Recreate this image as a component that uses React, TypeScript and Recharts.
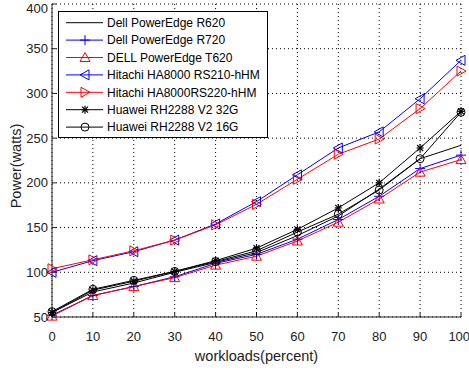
import React from "react";
import { LineChart, Line, XAxis, YAxis, CartesianGrid, Legend } from "recharts";

const workloads = [0, 10, 20, 30, 40, 50, 60, 70, 80, 90, 100];
const dellR620 = [55, 78, 88, 100, 111, 122, 141, 163, 193, 227, 242];
const dellR720 = [52, 74, 84, 95, 110, 120, 137, 159, 185, 216, 231];
const dellT620 = [51, 74, 84, 94, 108, 118, 135, 156, 182, 212, 226];
const hitachiRS210 = [100, 113, 123, 136, 154, 179, 209, 239, 257, 294, 337];
const hitachiRS220 = [104, 114, 124, 136, 153, 176, 204, 232, 249, 283, 325];
const huawei32G = [55, 80, 90, 101, 113, 127, 148, 172, 200, 239, 280];
const huawei16G = [56, 81, 91, 101, 112, 124, 145, 165, 192, 227, 279];

const xTicks = [0, 10, 20, 30, 40, 50, 60, 70, 80, 90, 100];
const yTicks = [50, 100, 150, 200, 250, 300, 350, 400];

type Shape = "none" | "plus" | "triUp" | "triLeft" | "triRight" | "star" | "circle";

interface Series {
  key: string;
  label: string;
  color: string;
  shape: Shape;
  values: number[];
}

const series: Series[] = [
  { key: "r620", label: "Dell PowerEdge R620", color: "#000000", shape: "none", values: dellR620 },
  { key: "r720", label: "Dell PowerEdge R720", color: "#0000ff", shape: "plus", values: dellR720 },
  { key: "t620", label: "DELL PowerEdge T620", color: "#ff0000", shape: "triUp", values: dellT620 },
  { key: "rs210", label: "Hitachi HA8000 RS210-hHM", color: "#0000ff", shape: "triLeft", values: hitachiRS210 },
  { key: "rs220", label: "Hitachi HA8000RS220-hHM", color: "#ff0000", shape: "triRight", values: hitachiRS220 },
  { key: "g32", label: "Huawei RH2288 V2 32G", color: "#000000", shape: "star", values: huawei32G },
  { key: "g16", label: "Huawei RH2288 V2 16G", color: "#000000", shape: "circle", values: huawei16G },
];

const data = workloads.map((w, i) => {
  const row: Record<string, number> = { x: w };
  series.forEach((s) => {
    row[s.key] = s.values[i];
  });
  return row;
});

const FONT = "'Liberation Sans', Arial, sans-serif";

function Marker({ shape, cx, cy, color }: { shape: Shape; cx: number; cy: number; color: string }) {
  const s = 5;
  switch (shape) {
    case "plus":
      return (
        <g stroke={color} strokeWidth={1} fill="none">
          <line x1={cx - s} y1={cy} x2={cx + s} y2={cy} />
          <line x1={cx} y1={cy - s} x2={cx} y2={cy + s} />
        </g>
      );
    case "triUp":
      return (
        <polygon
          points={`${cx},${cy - s} ${cx - s},${cy + s - 1} ${cx + s},${cy + s - 1}`}
          fill="none"
          stroke={color}
          strokeWidth={1}
        />
      );
    case "triLeft":
      return (
        <polygon
          points={`${cx - s},${cy} ${cx + s - 1},${cy - s} ${cx + s - 1},${cy + s}`}
          fill="none"
          stroke={color}
          strokeWidth={1}
        />
      );
    case "triRight":
      return (
        <polygon
          points={`${cx + s},${cy} ${cx - s + 1},${cy - s} ${cx - s + 1},${cy + s}`}
          fill="none"
          stroke={color}
          strokeWidth={1}
        />
      );
    case "star":
      return (
        <g stroke={color} strokeWidth={1.2} fill="none">
          <line x1={cx - 3.5} y1={cy} x2={cx + 3.5} y2={cy} />
          <line x1={cx} y1={cy - 4} x2={cx} y2={cy + 4} />
          <line x1={cx - 3} y1={cy - 3} x2={cx + 3} y2={cy + 3} />
          <line x1={cx - 3} y1={cy + 3} x2={cx + 3} y2={cy - 3} />
        </g>
      );
    case "circle":
      return <circle cx={cx} cy={cy} r={4} fill="none" stroke={color} strokeWidth={1} />;
    default:
      return null;
  }
}

function LegendBox() {
  const rowH = 17.4;
  return (
    <svg width={210} height={127} style={{ display: "block" }}>
      <rect x={0.5} y={0.5} width={209} height={126} fill="#ffffff" stroke="#000000" strokeWidth={1} />
      {series.map((s, i) => {
        const cy = 11.7 + i * rowH;
        return (
          <g key={s.key}>
            <line x1={8} y1={cy} x2={45} y2={cy} stroke={s.color} strokeWidth={1} />
            <Marker shape={s.shape} cx={27} cy={cy} color={s.color} />
            <text x={49} y={cy} dy="0.35em" fontSize={12} fontFamily={FONT} fill="#000000">
              {s.label}
            </text>
          </g>
        );
      })}
    </svg>
  );
}

export default function App() {
  const tickStyle = { fontSize: 13, fill: "#222222", fontFamily: FONT };
  return (
    <div style={{ width: 469, height: 370, background: "#ffffff", fontFamily: FONT }}>
      <style>{`body{margin:0;}`}</style>
      <LineChart width={469} height={370} data={data} margin={{ top: 4, right: 8, bottom: 0, left: 0 }}>
        <CartesianGrid stroke="#000000" strokeDasharray="1 3" />
        <XAxis
          dataKey="x"
          type="number"
          domain={[0, 100]}
          ticks={xTicks}
          height={53}
          tick={tickStyle}
          tickSize={-4}
          tickMargin={19}
          stroke="#222222"
          label={{
            value: "workloads(percent)",
            position: "insideBottom",
            offset: 9,
            style: { fontSize: 14.5, fill: "#222222", fontFamily: FONT },
          }}
        />
        <XAxis
          xAxisId="top"
          orientation="top"
          dataKey="x"
          type="number"
          domain={[0, 100]}
          ticks={xTicks}
          height={0}
          tickSize={-4}
          tickFormatter={() => ""}
          stroke="#222222"
        />
        <YAxis
          type="number"
          domain={[50, 400]}
          ticks={yTicks}
          width={52}
          tick={tickStyle}
          tickSize={-4}
          tickMargin={8}
          stroke="#222222"
          label={{
            content: () => (
              <text
                x={16}
                y={166}
                transform="rotate(-90 16 166)"
                textAnchor="middle"
                dominantBaseline="central"
                fontSize={14.5}
                fill="#222222"
                fontFamily={FONT}
              >
                Power(watts)
              </text>
            ),
          }}
        />
        <YAxis
          yAxisId="right"
          orientation="right"
          type="number"
          domain={[50, 400]}
          ticks={yTicks}
          width={0}
          tickSize={-4}
          tickFormatter={() => ""}
          stroke="#222222"
        />
        <Legend
          layout="vertical"
          align="center"
          verticalAlign="middle"
          content={() => <LegendBox />}
          wrapperStyle={{ position: "absolute", left: 58, top: 11, width: 210, height: 127 }}
        />
        {series.map((s) => (
          <Line
            key={s.key}
            type="linear"
            dataKey={s.key}
            name={s.label}
            stroke={s.color}
            strokeWidth={1}
            isAnimationActive={false}
            dot={(p: any) => (
              <Marker key={`${s.key}-${p.index}`} shape={s.shape} cx={p.cx} cy={p.cy} color={s.color} />
            )}
            activeDot={false}
          />
        ))}
      </LineChart>
    </div>
  );
}
